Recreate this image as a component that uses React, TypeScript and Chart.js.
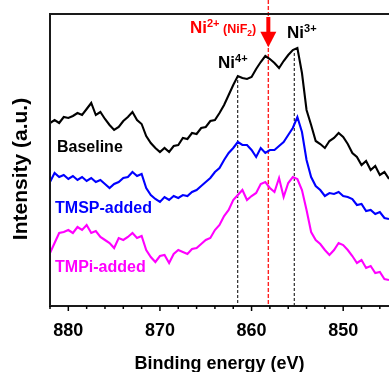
import { useEffect, useRef } from 'react';
import { Chart, registerables } from 'chart.js';

Chart.register(...registerables);

const FONT = "'Liberation Sans', Arial, sans-serif";

const energies = [
  882, 881.5, 881, 880.5, 880, 879.5, 879, 878.5, 878, 877.5,
  877, 876.5, 876, 875.5, 875, 874.5, 874, 873.5, 873, 872.5,
  872, 871.5, 871, 870.5, 870, 869.5, 869, 868.5, 868, 867.5,
  867, 866.5, 866, 865.5, 865, 864.5, 864, 863.5, 863, 862.5,
  862, 861.5, 861, 860.5, 860, 859.5, 859, 858.5, 858, 857.5,
  857, 856.5, 856, 855.5, 855, 854.5, 854, 853.5, 853, 852.5,
  852, 851.5, 851, 850.5, 850, 849.5, 849, 848.5, 848, 847.5,
  847, 846.5, 846, 845.5, 845,
];

const baseline = [
  183, 186, 183, 189, 188, 190, 193, 191, 197, 203,
  191, 194, 187, 181, 176, 179, 185, 189, 194, 186,
  182, 170, 163, 158, 154, 158, 154, 160, 161, 168,
  167, 173, 172, 178, 179, 185, 186, 193, 201, 211,
  221, 230, 228, 227, 229, 237, 244, 250, 247, 243,
  238, 245, 251, 256, 258, 233, 196, 181, 165, 162,
  158, 165, 168, 173, 169, 162, 153, 149, 141, 145,
  136, 140, 131, 134, 127,
];

const tmspAdded = [
  124, 133, 129, 131, 127, 130, 126, 129, 125, 128,
  124, 126, 122, 118, 122, 124, 128, 129, 134, 130,
  132, 118, 111, 107, 104, 109, 106, 110, 108, 111,
  110, 114, 116, 120, 124, 128, 134, 138, 146, 153,
  158, 164, 161, 161, 156, 149, 158, 153, 156, 156,
  160, 164, 171, 178, 189, 174, 146, 129, 120, 116,
  110, 113, 112, 114, 110, 109, 107, 101, 102, 95,
  96, 92, 94, 88, 87,
];

const tmpiAdded = [
  53, 63, 73, 74, 76, 73, 79, 76, 81, 73,
  75, 69, 66, 63, 58, 68, 66, 69, 73, 68,
  70, 56, 49, 44, 50, 51, 43, 52, 56, 54,
  52, 57, 58, 62, 66, 68, 76, 81, 90, 96,
  106, 111, 116, 106, 110, 113, 122, 124, 118, 114,
  128, 109, 123, 129, 127, 116, 96, 74, 66, 62,
  56, 51, 56, 63, 61, 56, 50, 43, 46, 38,
  40, 33, 34, 27, 26,
];

const seriesNames = ['Baseline', 'TMSP-added', 'TMPi-added'];
const seriesColors = ['#000000', '#0000ff', '#ff00ff'];
const seriesValues = [baseline, tmspAdded, tmpiAdded];
// label anchor (energy, intensity) for the series names
const nameEnergy = [881.24, 881.45, 881.45];
const nameIntensity = [158, 97, 38];

const xMin = 845;
const xMax = 882;
const yMin = 0;
const yMax = 292;
const xTickValues = [880, 870, 860, 850];
const minorTickValues = [882, 880, 878, 876, 874, 872, 870, 868, 866, 864, 862, 860, 858, 856, 854, 852, 850, 848, 846];

// reference (dashed) lines: energy, starting intensity (null = top of canvas)
const refEnergies = [861.51, 858.17, 855.34];
const refStarts: (number | null)[] = [226, null, 253];
const refColors = ['#000000', '#ff2020', '#000000'];

// peak labels
const peakMain = ['Ni', 'Ni', 'Ni'];
const peakSup = ['4+', '3+', '2+'];
const peakEnergy = [863.66, 856.13, 866.72];
const peakIntensity = [238, 268, 273];
const peakColors = ['#000000', '#000000', '#ff0000'];

const arrowEnergy = 858.17;
const arrowHeadTop = 274.3;
const arrowTip = 258.7;

function drawRich(ctx: CanvasRenderingContext2D, parts: { t: string; size: number; dy: number }[], x: number, y: number, color: string) {
  let cx = x;
  ctx.fillStyle = color;
  ctx.textAlign = 'left';
  ctx.textBaseline = 'alphabetic';
  for (const p of parts) {
    ctx.font = `bold ${p.size}px ${FONT}`;
    ctx.fillText(p.t, cx, y + p.dy);
    cx += ctx.measureText(p.t).width;
  }
}

const annotPlugin = {
  id: 'annot',
  beforeDatasetsDraw(chart: any) {
    const { ctx, chartArea, scales } = chart;
    const x = scales.x;
    const y = scales.y;
    ctx.save();
    refEnergies.forEach((e, i) => {
      const px = x.getPixelForValue(e);
      const s = refStarts[i];
      const top = s === null ? 0 : y.getPixelForValue(s);
      ctx.beginPath();
      ctx.setLineDash(i === 1 ? [4, 2] : [3, 2]);
      ctx.strokeStyle = refColors[i];
      ctx.lineWidth = i === 1 ? 1.4 : 1;
      ctx.moveTo(px, top);
      ctx.lineTo(px, chartArea.bottom);
      ctx.stroke();
    });
    ctx.restore();
  },
  afterDraw(chart: any) {
    const { ctx, chartArea, scales } = chart;
    const x = scales.x;
    const y = scales.y;
    ctx.save();
    // frame
    ctx.strokeStyle = '#1a1a1a';
    ctx.lineWidth = 2;
    ctx.setLineDash([]);
    ctx.beginPath();
    ctx.moveTo(chartArea.right + 2, chartArea.top);
    ctx.lineTo(chartArea.left, chartArea.top);
    ctx.lineTo(chartArea.left, chartArea.bottom);
    ctx.lineTo(chartArea.right + 2, chartArea.bottom);
    ctx.stroke();
    // ticks
    ctx.lineWidth = 1.5;
    ctx.strokeStyle = '#000';
    minorTickValues.forEach((v) => {
      const px = x.getPixelForValue(v);
      const len = v % 10 === 0 ? 5 : 3;
      ctx.beginPath();
      ctx.moveTo(px, chartArea.bottom);
      ctx.lineTo(px, chartArea.bottom + len);
      ctx.stroke();
    });
    // y title
    ctx.save();
    ctx.translate(21, (chartArea.top + chartArea.bottom) / 2 + 9);
    ctx.rotate(-Math.PI / 2);
    ctx.font = `bold 21px ${FONT}`;
    ctx.fillStyle = '#000';
    ctx.textAlign = 'center';
    ctx.textBaseline = 'middle';
    ctx.fillText('Intensity (a.u.)', 0, 0);
    ctx.restore();
    // series names
    seriesNames.forEach((n, i) => {
      ctx.font = `bold 16px ${FONT}`;
      ctx.fillStyle = seriesColors[i];
      ctx.textAlign = 'left';
      ctx.textBaseline = 'middle';
      ctx.fillText(n, x.getPixelForValue(nameEnergy[i]), y.getPixelForValue(nameIntensity[i]));
    });
    // peak labels
    peakMain.forEach((m, i) => {
      const px = x.getPixelForValue(peakEnergy[i]);
      const py = y.getPixelForValue(peakIntensity[i]);
      const parts = [
        { t: m, size: 17, dy: 0 },
        { t: peakSup[i], size: 11, dy: -6 },
      ];
      if (i === 2) {
        parts.push({ t: ' (NiF', size: 12.5, dy: 0 });
        parts.push({ t: '2', size: 8.5, dy: 2.5 });
        parts.push({ t: ')', size: 12.5, dy: 0 });
      }
      drawRich(ctx, parts, px, py, peakColors[i]);
    });
    // arrow
    const ax = x.getPixelForValue(arrowEnergy);
    const headTop = y.getPixelForValue(arrowHeadTop);
    const tip = y.getPixelForValue(arrowTip);
    ctx.fillStyle = '#ff0000';
    ctx.fillRect(ax - 2, chartArea.top + 3, 4, headTop - chartArea.top - 1);
    ctx.beginPath();
    ctx.moveTo(ax - 8, headTop);
    ctx.lineTo(ax + 8, headTop);
    ctx.lineTo(ax, tip);
    ctx.closePath();
    ctx.fill();
    ctx.restore();
  },
};

export default function App() {
  const ref = useRef<HTMLCanvasElement | null>(null);
  useEffect(() => {
    if (!ref.current) return;
    Chart.defaults.font.family = FONT;
    const chart = new Chart(ref.current, {
      type: 'line',
      data: {
        datasets: seriesValues.map((vals, i) => ({
          label: seriesNames[i],
          data: vals.map((v, j) => ({ x: energies[j], y: v })),
          borderColor: seriesColors[i],
          borderWidth: 2.1,
          pointRadius: 0,
          tension: 0,
          fill: false,
        })),
      },
      options: {
        animation: false,
        responsive: true,
        maintainAspectRatio: false,
        layout: { padding: { top: 14, left: 50, right: 0, bottom: 0 } },
        plugins: { legend: { display: false }, tooltip: { enabled: false } },
        scales: {
          x: {
            type: 'linear',
            reverse: true,
            min: xMin,
            max: xMax,
            afterBuildTicks: (s: any) => {
              s.ticks = xTickValues.map((v) => ({ value: v }));
            },
            afterFit: (s: any) => {
              s.height = 66;
            },
            grid: { display: false, drawTicks: false },
            border: { display: false },
            ticks: {
              color: '#000',
              padding: 14,
              maxRotation: 0,
              autoSkip: false,
              font: { family: FONT, weight: 'bold', size: 18 },
            },
            title: {
              display: true,
              text: 'Binding energy (eV)',
              color: '#000',
              padding: 0,
              font: { family: FONT, weight: 'bold', size: 18, lineHeight: 0.9 },
            },
          },
          y: { display: false, min: yMin, max: yMax },
        },
      },
      plugins: [annotPlugin],
    } as any);
    return () => chart.destroy();
  }, []);
  return (
    <div style={{ position: 'absolute', left: 0, top: 0, width: 389, height: 372 }}>
      <canvas ref={ref} />
    </div>
  );
}
